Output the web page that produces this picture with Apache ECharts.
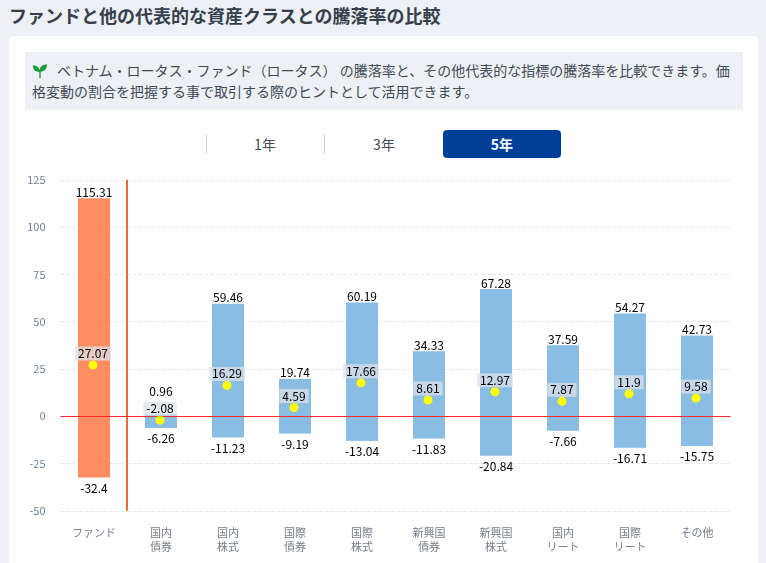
<!DOCTYPE html>
<html lang="ja"><head><meta charset="utf-8">
<script src="https://cdn.jsdelivr.net/npm/echarts@6/dist/echarts.min.js"></script>
<style>
html,body{margin:0;padding:0;width:766px;height:563px;overflow:hidden;background:#edf0f4;font-family:"Noto Sans CJK JP","Noto Sans",sans-serif;}
#title{position:absolute;left:9px;top:3px;font-size:18px;font-weight:700;color:#36404d;line-height:24px;white-space:nowrap;}
#card{position:absolute;left:9px;top:36px;width:749px;height:540px;background:#fff;border-radius:5px;}
#note{position:absolute;left:25px;top:52px;width:718px;height:58px;background:#edf0f4;}
#note p{margin:0;position:absolute;left:7px;top:8px;width:708px;font-size:14px;line-height:21px;color:#3f4a57;}
#note svg{vertical-align:-3px;margin-right:9px;}
.tab{position:absolute;top:130px;width:118px;height:28px;line-height:28px;text-align:center;font-size:14px;color:#3f4a57;}
.sep{position:absolute;top:134px;width:1px;height:20px;background:#c8d3de;}
#t5{background:#003f98;color:#fff;font-weight:700;border-radius:4px;}
#chart{position:absolute;left:0;top:160px;width:766px;height:403px;}
</style></head><body>
<div id="title">ファンドと他の代表的な資産クラスとの騰落率の比較</div>
<div id="card"></div>
<div id="note"><p><svg width="16" height="16" viewBox="0 0 16 16"><path d="M7.3 15V9C3.5 9 1 7 .8 2.6 4.6 2.4 7 4.4 7.6 7.2 8 3.6 10.600 1.400 15 1.200 15 5.800 12.600 8.400 8.700 8.700V15Z" fill="#1d9a3c"/></svg>ベトナム・ロータス・ファンド（ロータス） の騰落率と、その他代表的な指標の騰落率を比較できます。価格変動の割合を把握する事で取引する際のヒントとして活用できます。</p></div>
<div class="sep" style="left:206px"></div><div class="sep" style="left:324px"></div>
<div class="tab" style="left:206px">1年</div><div class="tab" style="left:325px">3年</div><div class="tab" id="t5" style="left:443px">5年</div>
<div id="chart"></div>
<script>
const categories=["ファンド","国内\n債券","国内\n株式","国際\n債券","国際\n株式","新興国\n債券","新興国\n株式","国内\nリート","国際\nリート","その他"];
const maxValues=[115.31,0.96,59.46,19.74,60.19,34.33,67.28,37.59,54.27,42.73];
const minValues=[-32.4,-6.26,-11.23,-9.19,-13.04,-11.83,-20.84,-7.66,-16.71,-15.75];
const avgValues=[27.07,-2.08,16.29,4.59,17.66,8.61,12.97,7.87,11.9,9.58];
const FUND='#ff8d62',OTHER='#8abde4',TXT='#000';
const fontFamily='"Noto Sans CJK JP","Noto Sans",sans-serif';
const col=i=>i===0?FUND:OTHER;
const chart=echarts.init(document.getElementById('chart'),null,{renderer:'canvas'});
chart.setOption({
 animation:false,
 grid:{left:60.5,right:35.5,top:19.8,bottom:52.2},
 xAxis:[{type:'category',data:categories,axisTick:{show:false},axisLine:{show:false,onZero:false},
   axisLabel:{color:'#777f88',fontSize:11,lineHeight:14,margin:15,fontFamily,interval:0}},
  {type:'value',min:0,max:10,show:false}],
 yAxis:{type:'value',min:-50,max:125,interval:25,axisLine:{show:false},axisTick:{show:false},
   axisLabel:{color:'#6d7f99',fontSize:11,margin:15,fontFamily,padding:[0,0,4,0]},
   splitLine:{lineStyle:{color:'#e6e8ea',type:'dashed',width:1}}},
 series:[
  {type:'bar',stack:'r',barWidth:32,z:2,data:maxValues.map((v,i)=>({value:v,itemStyle:{color:col(i)},
     label:{show:true,position:'top',distance:v<5?16.5:0,color:TXT,fontSize:12,fontFamily}}))},
  {type:'bar',stack:'r',barWidth:32,z:2,data:minValues.map((v,i)=>({value:v,itemStyle:{color:col(i)},
     label:{show:true,position:'bottom',distance:4.5,color:TXT,fontSize:12,fontFamily}}))},
  {type:'line',xAxisIndex:1,data:[],silent:true,z:3,symbol:'none',
   markLine:{silent:true,symbol:'none',label:{show:false},animation:false,
    data:[{xAxis:0.99,lineStyle:{color:'#ec6a35',width:2,type:'solid'}}]}},
  {type:'line',data:[],silent:true,z:3,symbol:'none',
   markLine:{silent:true,symbol:'none',label:{show:false},animation:false,
    lineStyle:{color:'#ff2a2a',width:1,type:'solid',opacity:1},
    data:[{yAxis:0,lineStyle:{color:'#ff2a2a',width:1,type:'solid',opacity:1}}]}},
  {type:'scatter',symbolSize:9,z:5,symbolOffset:[-1,0],itemStyle:{color:'#ffff00',opacity:1},data:avgValues,
   label:{show:true,position:'top',distance:0,color:TXT,fontSize:12,fontFamily,
     backgroundColor:'rgba(222,226,234,0.75)',padding:[1,3,1,3]}}
 ]
});
</script></body></html>
